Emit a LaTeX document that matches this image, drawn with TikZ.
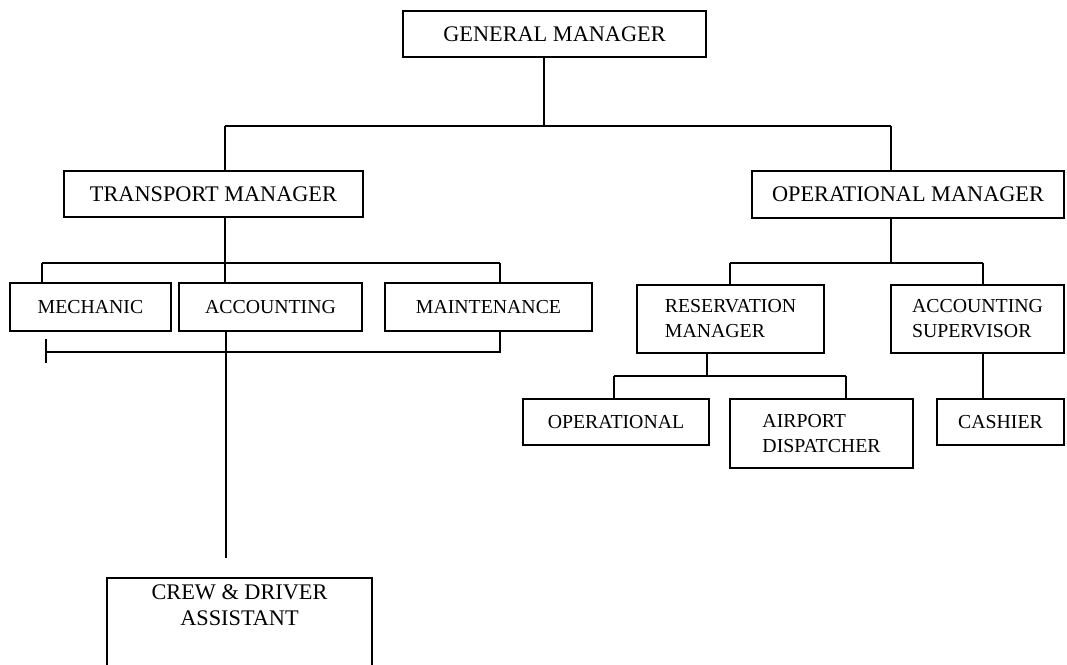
\documentclass[tikz,border=0pt]{standalone}
\usepackage{fontspec}
\setmainfont{Liberation Serif}
\begin{document}
\begin{tikzpicture}[x=1pt,y=-1pt,
  conn/.style={line width=1.6pt},
  box/.style={draw,line width=1.6pt,inner sep=0pt,outer sep=0pt},
  big/.style={font=\fontsize{22.3}{26}\selectfont},
  small/.style={font=\fontsize{19.8}{25}\selectfont,align=left}]
\useasboundingbox (0,0) rectangle (1067,664);
\clip (0,0) rectangle (1067,664);
% managers
\node[box,big,minimum width=303pt,minimum height=46pt] (gm) at (554.5,34) {GENERAL MANAGER};
\node[box,big,minimum width=299pt,minimum height=46pt] (tm) at (213.5,194) {TRANSPORT MANAGER};
\node[box,big,minimum width=312pt,minimum height=47pt] (om) at (908,194.5) {OPERATIONAL MANAGER};
% transport side
\node[box,small,minimum width=161pt,minimum height=48pt] (mec) at (90.5,307) {MECHANIC};
\node[box,small,minimum width=183pt,minimum height=48pt] (acc) at (270.5,307) {ACCOUNTING};
\node[box,small,minimum width=207pt,minimum height=48pt] (mai) at (488.5,307) {MAINTENANCE};
\node[box,anchor=north west,minimum width=265pt,minimum height=120pt] (crew) at (107,578) {};
\node[big,align=center] (crewtext) at (239.5,605) {CREW \& DRIVER\\ASSISTANT};
% operational side
\node[box,small,minimum width=187pt,minimum height=68pt] (res) at (730.5,319) {RESERVATION\\MANAGER};
\node[box,small,minimum width=173pt,minimum height=68pt] (asup) at (977.5,319) {ACCOUNTING\\SUPERVISOR};
\node[box,small,minimum width=186pt,minimum height=46pt] (ope) at (616,422) {OPERATIONAL};
\node[box,small,minimum width=183pt,minimum height=69pt] (air) at (821.5,433.5) {AIRPORT\\DISPATCHER};
\node[box,small,minimum width=127pt,minimum height=46pt] (cash) at (1000.5,422) {CASHIER};
% junction coordinates
\coordinate (j1) at (544,126);
\coordinate (j1l) at (225,126);
\coordinate (j1r) at (891,126);
\coordinate (j2) at (225,263);
\coordinate (j2l) at (42,263);
\coordinate (j2r) at (500,263);
\coordinate (b2l) at (47,352);
\coordinate (b2r) at (500,352);
\coordinate (tk1) at (46,339);
\coordinate (tk2) at (46,363);
\coordinate (acx) at (226,352);
\coordinate (crewend) at (226,558);
\coordinate (j3) at (891,263);
\coordinate (j3l) at (730,263);
\coordinate (j3r) at (983,263);
\coordinate (j4) at (707,376);
\coordinate (j4l) at (614,376);
\coordinate (j4r) at (846,376);
% top level
\draw[conn] (gm.south -| j1) -- (j1);
\draw[conn] (j1l) -- (j1r);
\draw[conn] (j1l) -- (tm.north -| j1l);
\draw[conn] (j1r) -- (om.north -| j1r);
% transport
\draw[conn] (tm.south -| j2) -- (acc.north -| j2);
\draw[conn] (j2l) -- (j2r);
\draw[conn] (j2l) -- (mec.north -| j2l);
\draw[conn] (j2r) -- (mai.north -| j2r);
\draw[conn] (acc.south -| acx) -- (crewend);
\draw[conn] (b2l) -- (b2r) -- (mai.south -| b2r);
\draw[conn] (tk1) -- (tk2);
% operational
\draw[conn] (om.south -| j3) -- (j3);
\draw[conn] (j3l) -- (j3r);
\draw[conn] (j3l) -- (res.north -| j3l);
\draw[conn] (j3r) -- (asup.north -| j3r);
\draw[conn] (res.south -| j4) -- (j4);
\draw[conn] (j4l) -- (j4r);
\draw[conn] (j4l) -- (ope.north -| j4l);
\draw[conn] (j4r) -- (air.north -| j4r);
\draw[conn] (asup.south -| j3r) -- (cash.north -| j3r);
\end{tikzpicture}
\end{document}
